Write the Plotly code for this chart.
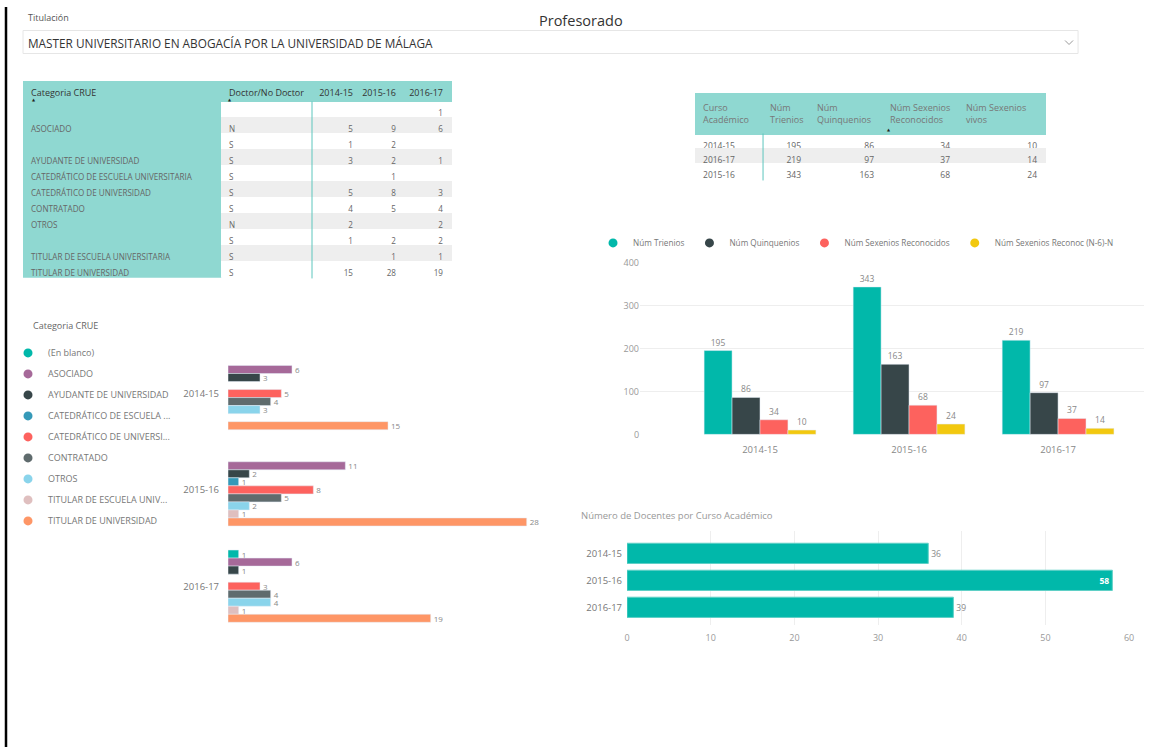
import plotly.graph_objects as go

W, H = 1151, 753

# ---------------- data ----------------
titulacion = "MASTER UNIVERSITARIO EN ABOGACÍA POR LA UNIVERSIDAD DE MÁLAGA"
cursos = ["2014-15", "2015-16", "2016-17"]

categorias = ["(En blanco)", "ASOCIADO", "AYUDANTE DE UNIVERSIDAD",
              "CATEDRÁTICO DE ESCUELA ...", "CATEDRÁTICO DE UNIVERSI...",
              "CONTRATADO", "OTROS", "TITULAR DE ESCUELA UNIV...",
              "TITULAR DE UNIVERSIDAD"]
cat_colors = ["#01B8AA", "#A66999", "#374649", "#3599B8", "#FD625E",
              "#5F6B6D", "#8AD4EB", "#DFBFBF", "#FE9666"]
# docentes per categoria, for 2014-15, 2015-16, 2016-17
doc_en_blanco = [None, None, 1]
doc_asociado = [6, 11, 6]
doc_ayudante = [3, 2, 1]
doc_cat_escuela = [None, 1, None]
doc_cat_univ = [5, 8, 3]
doc_contratado = [4, 5, 4]
doc_otros = [3, 2, 4]
doc_tit_escuela = [None, 1, 1]
doc_tit_univ = [15, 28, 19]
docentes_cat = [doc_en_blanco, doc_asociado, doc_ayudante, doc_cat_escuela,
                doc_cat_univ, doc_contratado, doc_otros, doc_tit_escuela,
                doc_tit_univ]

# matrix table (top left)
t1_header = ["Categoria CRUE", "Doctor/No Doctor", "2014-15", "2015-16", "2016-17"]
t1_categoria = ["", "ASOCIADO", "", "AYUDANTE DE UNIVERSIDAD",
                "CATEDRÁTICO DE ESCUELA UNIVERSITARIA", "CATEDRÁTICO DE UNIVERSIDAD",
                "CONTRATADO", "OTROS", "", "TITULAR DE ESCUELA UNIVERSITARIA",
                "TITULAR DE UNIVERSIDAD"]
t1_doctor = ["", "N", "S", "S", "S", "S", "S", "N", "S", "S", "S"]
t1_1415 = ["", 5, 1, 3, "", 5, 4, 2, 1, "", 15]
t1_1516 = ["", 9, 2, 2, 1, 8, 5, "", 2, 1, 28]
t1_1617 = [1, 6, "", 1, "", 3, 4, 2, 2, 1, 19]

# table (top right)
t2_header = ["Curso<br>Académico", "Núm<br>Trienios", "Núm<br>Quinquenios",
             "Núm Sexenios<br>Reconocidos", "Núm Sexenios<br>vivos"]
t2_curso = ["2014-15", "2016-17", "2015-16"]
t2_trienios = [195, 219, 343]
t2_quinquenios = [86, 97, 163]
t2_sex_reconocidos = [34, 37, 68]
t2_sex_vivos = [10, 14, 24]

# column chart series
serie_names = ["Núm Trienios", "Núm Quinquenios", "Núm Sexenios Reconocidos",
               "Núm Sexenios Reconoc (N-6)-N"]
serie_colors = ["#01B8AA", "#374649", "#FD625E", "#F2C80F"]
orden = [t2_curso.index(c) for c in cursos]
serie_values = [[t2_trienios[i] for i in orden],
                [t2_quinquenios[i] for i in orden],
                [t2_sex_reconocidos[i] for i in orden],
                [t2_sex_vivos[i] for i in orden]]

# docentes por curso
docentes_total = [36, 58, 39]

# ---------------- helpers ----------------
FONT = "Open Sans, Segoe UI, sans-serif"
TEAL_BG = "#8FD8D1"

# screen-px -> paper fraction (compensates the small scale/offset of the capture)
SX, OX = 0.993, 2.0
SY, OY = 0.983, 6.5


def px(x):
    return (x - OX) / SX / W


def py(y):
    return 1 - (y - OY) / SY / H


def dx(a, b):
    return [px(a), px(b)]


def dy(top, bottom):
    return [py(bottom), py(top)]


def nb(v):
    # keep table texts on one line (non-breaking spaces)
    return str(v).replace(" ", "\u00a0")


fig = go.Figure()

# ---------- table 1 ----------
n1 = len(t1_categoria)
stripe = ["#FFFFFF" if i % 2 == 0 else "#EEEEEE" for i in range(n1)]
fig.add_trace(go.Table(
    domain=dict(x=dx(22, 450), y=dy(81, 278)),
    columnwidth=[198, 91, 49, 43, 47],
    header=dict(values=[nb(h) for h in t1_header], height=20 / SY, fill_color=TEAL_BG,
                line_color=TEAL_BG, align=["left", "left", "right", "right", "right"],
                font=dict(family=FONT, size=9, color="#333333")),
    cells=dict(values=[[nb(v) for v in t1_categoria], t1_doctor, t1_1415, t1_1516, t1_1617],
               height=15.7 / SY,
               fill_color=[[TEAL_BG] * n1, stripe, stripe, stripe, stripe],
               line_color=[[TEAL_BG] * n1, stripe, stripe, stripe, stripe],
               align=["left", "left", "right", "right", "right"],
               font=dict(family=FONT, size=8.1, color="#666666")),
))

# ---------- table 2 ----------
n2 = len(t2_curso)
stripe2 = ["#FFFFFF" if i % 2 == 0 else "#EEEEEE" for i in range(n2)]
fig.add_trace(go.Table(
    domain=dict(x=dx(694, 1044), y=dy(93, 180)),
    columnwidth=[67, 47, 73, 76, 87],
    header=dict(values=t2_header, height=40 / SY, fill_color=TEAL_BG,
                line_color=TEAL_BG, align="left",
                font=dict(family=FONT, size=9, color="#777777")),
    cells=dict(values=[t2_curso, t2_trienios, t2_quinquenios, t2_sex_reconocidos, t2_sex_vivos],
               height=14.5 / SY, fill_color=[stripe2] * 5, line_color=[stripe2] * 5,
               align=["left", "right", "right", "right", "right"],
               font=dict(family=FONT, size=8.5, color="#666666")),
))

# ---------- left clustered bar chart ----------
for name, vals, col in zip(categorias, docentes_cat, cat_colors):
    fig.add_trace(go.Bar(
        orientation="h", y=cursos, x=vals, marker_color=col,
        text=["" if v is None else str(v) for v in vals],
        textposition="outside", cliponaxis=False, constraintext="none",
        textfont=dict(family=FONT, size=8, color="#888888"),
        xaxis="x", yaxis="y", showlegend=False, hoverinfo="x+name", name=name))
    fig.add_trace(go.Scatter(
        x=[None], y=[None], mode="markers", name=name,
        marker=dict(symbol="circle", size=9, color=col),
        xaxis="x", yaxis="y", legend="legend", legendgroup=name, showlegend=True))

# ---------- right column chart ----------
for name, vals, col in zip(serie_names, serie_values, serie_colors):
    fig.add_trace(go.Bar(
        x=cursos, y=vals, marker_color=col, name=name,
        text=[str(v) for v in vals], textposition="outside", cliponaxis=False,
        constraintext="none",
        textfont=dict(family=FONT, size=8.5, color="#888888"),
        xaxis="x2", yaxis="y2", showlegend=False))
    fig.add_trace(go.Scatter(
        x=[None], y=[None], mode="markers", name=name,
        marker=dict(symbol="circle", size=9, color=col),
        xaxis="x2", yaxis="y2", legend="legend2", showlegend=True))

# ---------- bottom bar chart ----------
fig.add_trace(go.Bar(
    orientation="h", y=cursos, x=docentes_total, marker_color="#01B8AA",
    marker_line=dict(color="#5FD0C6", width=1),
    text=[str(v) for v in docentes_total],
    textposition=["outside", "inside", "outside"], insidetextanchor="end",
    constraintext="none",
    insidetextfont=dict(family=FONT, size=8.5, color="white", weight="bold"),
    outsidetextfont=dict(family=FONT, size=8.5, color="#888888"),
    cliponaxis=False, xaxis="x3", yaxis="y3", showlegend=False, name="Docentes"))

fig.update_layout(
    width=W, height=H, margin=dict(l=0, r=0, t=0, b=0),
    paper_bgcolor="white", plot_bgcolor="white",
    font=dict(family=FONT, color="#666666"),
    barmode="group", bargap=0.25, bargroupgap=0.0,
    xaxis=dict(domain=dx(227, 547), range=[0, 30], visible=False, anchor="y"),
    yaxis=dict(domain=dy(345, 634), type="category", range=[2.5, -0.5], anchor="x",
               showgrid=False, zeroline=False, showline=False, ticks="",
               ticklabelstandoff=8,
               tickfont=dict(family=FONT, size=9.5, color="#777777")),
    xaxis2=dict(domain=dx(639, 1143), type="category", range=[-0.805, 2.577], anchor="y2",
                showgrid=False, zeroline=False, showline=False, ticks="",
                ticklabelstandoff=8,
                tickfont=dict(family=FONT, size=9.5, color="#888888")),
    yaxis2=dict(domain=dy(262, 434), range=[0, 400], dtick=100, anchor="x2",
                showgrid=True, gridcolor="#EEEEEE", zeroline=False, ticks="",
                tickfont=dict(family=FONT, size=9, color="#999999")),
    xaxis3=dict(domain=dx(626, 1128), range=[0, 60], dtick=10, anchor="y3",
                showgrid=True, gridcolor="#EEEEEE", zeroline=False, ticks="",
                ticklabelstandoff=6,
                tickfont=dict(family=FONT, size=9, color="#999999")),
    yaxis3=dict(domain=dy(531, 625), type="category", range=[2.667, -0.815], anchor="x3",
                showgrid=False, zeroline=False, ticks="", ticklabelstandoff=4,
                tickfont=dict(family=FONT, size=9.5, color="#777777")),
    legend=dict(x=px(7), y=py(338), xanchor="left", yanchor="top",
                orientation="v", tracegroupgap=2, bgcolor="rgba(0,0,0,0)",
                font=dict(family=FONT, size=9, color="#777777")),
    legend2=dict(x=px(592), y=py(228), xanchor="left", yanchor="top",
                 orientation="h", bgcolor="rgba(0,0,0,0)",
                 font=dict(family=FONT, size=8.2, color="#777777")),
    showlegend=True,
)

annotations = [
    dict(text="Profesorado", x=px(580), y=py(20), xanchor="center", yanchor="middle",
         font=dict(family=FONT, size=14.5, color="#333333")),
    dict(text="Titulación", x=px(25), y=py(17), xanchor="left", yanchor="middle",
         font=dict(family=FONT, size=9, color="#555555")),
    dict(text=titulacion, x=px(25), y=py(43), xanchor="left", yanchor="middle",
         font=dict(family=FONT, size=11.8, color="#333333")),
    dict(text="Categoria CRUE", x=px(30), y=py(325), xanchor="left", yanchor="middle",
         font=dict(family=FONT, size=9, color="#666666")),
    dict(text="Número de Docentes por Curso Académico", x=px(578), y=py(515),
         xanchor="left", yanchor="middle", font=dict(family=FONT, size=9.5, color="#999999")),
    # sort indicators of the table headers
    dict(text="▲", x=px(33), y=py(99.5), xanchor="center", yanchor="middle", borderpad=0,
         font=dict(family="DejaVu Sans", size=4, color="#222222")),
    dict(text="▲", x=px(229), y=py(99.5), xanchor="center", yanchor="middle", borderpad=0,
         font=dict(family="DejaVu Sans", size=4, color="#222222")),
    dict(text="▲", x=px(888), y=py(129.5), xanchor="center", yanchor="middle", borderpad=0,
         font=dict(family="DejaVu Sans", size=4, color="#222222")),
]
for a in annotations:
    a.update(xref="paper", yref="paper", showarrow=False)
fig.update_layout(annotations=annotations)

shapes = [
    # left black frame line
    dict(type="line", x0=px(5), x1=px(5), y0=0, y1=1, line=dict(color="black", width=2.5)),
    # dropdown box
    dict(type="rect", x0=px(22), x1=px(1077), y0=py(53), y1=py(30),
         line=dict(color="#E6E6E6", width=1)),
    # chevron
    dict(type="path",
         path=f"M {px(1064)} {py(40)} L {px(1068)} {py(44)} L {px(1072)} {py(40)}",
         line=dict(color="#999999", width=1)),
    # table dividers
    dict(type="line", x0=px(311), x1=px(311), y0=py(278), y1=py(101),
         line=dict(color="#5CC6BD", width=1)),
    dict(type="line", x0=px(762), x1=px(762), y0=py(180), y1=py(133),
         line=dict(color="#5CC6BD", width=1)),
]
for s in shapes:
    s.update(xref="paper", yref="paper")
fig.update_layout(shapes=shapes)

POST = (
    "document.documentElement.style.margin='0';"
    "document.documentElement.style.overflow='hidden';"
    "document.body.style.margin='0';document.body.style.overflow='hidden';"
    "var gd=document.getElementById('{plot_id}');"
    "gd.style.position='fixed';gd.style.left='0px';gd.style.top='0px';"
)

fig.write_html("out.html", config={"displayModeBar": False}, post_script=POST)
